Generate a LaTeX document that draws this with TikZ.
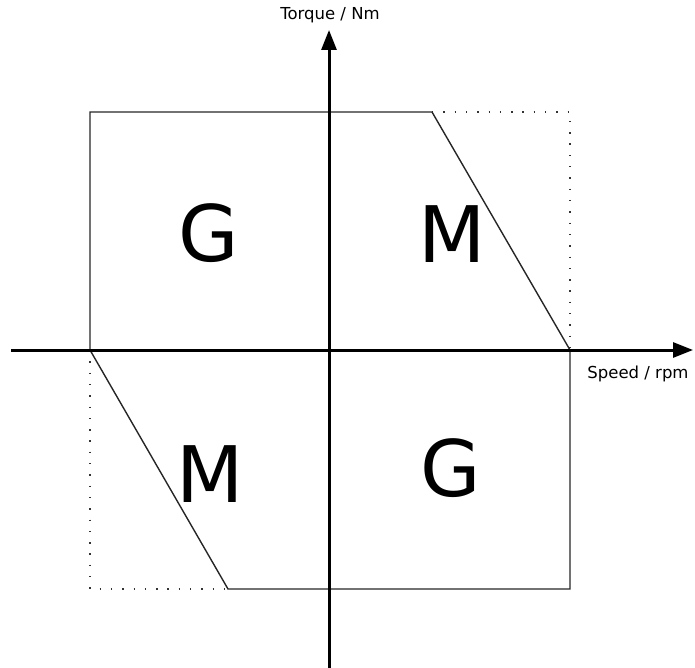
\documentclass[tikz,border=0pt]{standalone}
\usepackage{fontspec}
\setmainfont{DejaVu Sans}
\usetikzlibrary{arrows.meta}
\tikzset{
  axisline/.style={
    -{Triangle[length=20pt,width=15pt]},
    line width=3pt,
    draw=black
  },
  regionline/.style={
    line width=1.4pt,
    draw=black!85,
    line join=miter
  },
  limitline/.style={
    line width=1.4pt,
    draw=black!80,
    dash pattern=on 1.4pt off 9.9pt
  },
  axislabel/.style={
    anchor=base,
    inner sep=0pt,
    font=\fontsize{16.5}{18}\selectfont
  },
  quadlabel/.style={
    anchor=base,
    inner sep=0pt,
    font=\fontsize{78}{78}\selectfont
  }
}

\begin{document}
\begin{tikzpicture}[x=1pt,y=-1pt]
\useasboundingbox (0,0) rectangle (695,668);

% corners of the operating region
\coordinate (tl) at (90,112);
\coordinate (tk) at (432,112);
\coordinate (tr) at (570,112);
\coordinate (rm) at (570,350);
\coordinate (br) at (570,589);
\coordinate (bk) at (228,589);
\coordinate (bl) at (90,589);
\coordinate (lm) at (90,350);

% axis ends
\coordinate (xstart) at (11,350);
\coordinate (xend) at (693,350);
\coordinate (ystart) at (329,668);
\coordinate (yend) at (329,30);

\draw[limitline] (tk) -- (tr) -- (rm);
\draw[limitline] (lm) -- (bl) -- (bk);
\draw[regionline] (tl) -- (tk) -- (rm) -- (br) -- (bk) -- (lm) -- cycle;

\draw[axisline] (xstart) -- (xend);
\draw[axisline] (ystart) -- (yend);

\node[axislabel] (torque) at (330,20) {Torque / Nm};
\node[axislabel] (speed) at (638,378.5) {Speed / rpm};

\node[quadlabel] (gtop) at (209,261) {G};
\node[quadlabel] (mtop) at (452,262) {M};
\node[quadlabel] (mbot) at (210,502) {M};
\node[quadlabel] (gbot) at (451,496) {G};
\end{tikzpicture}
\end{document}
